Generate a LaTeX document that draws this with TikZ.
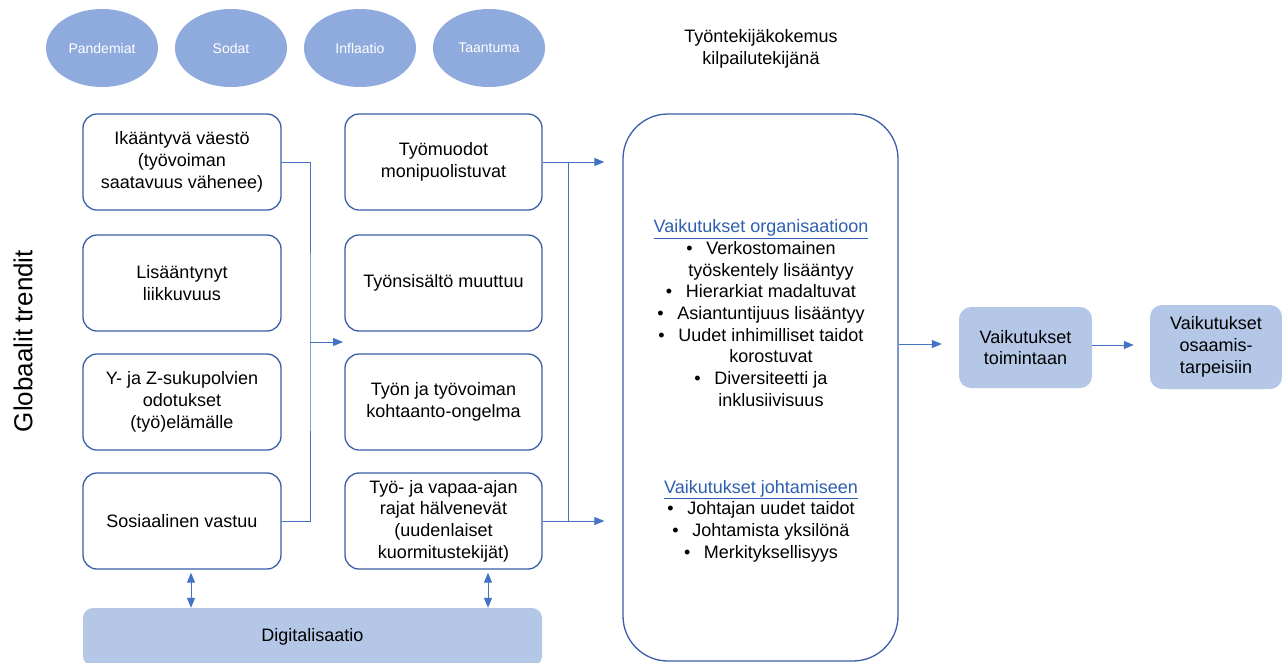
\documentclass[tikz,border=0pt]{standalone}
\usepackage{fontspec}
\setmainfont{Liberation Sans}
\usetikzlibrary{arrows.meta,shapes.geometric,calc}

\definecolor{boxline}{HTML}{3A5FA8}
\definecolor{linkblue}{HTML}{4472C4}
\definecolor{ovalfill}{HTML}{8FAADC}
\definecolor{panelfill}{HTML}{B4C7E7}
\definecolor{headblue}{HTML}{2F5FB0}

% bullet hanging 20pt to the left of the item text
\newcommand{\bitem}[1]{\hspace*{20pt}\llap{\makebox[20pt][l]{•}}#1}
\newcommand{\bcont}[1]{\hspace*{20pt}#1}

\begin{document}
\begin{tikzpicture}[x=1pt,y=-1pt,
  txt/.style={font=\fontsize{18}{21.7}\selectfont, align=center, text=black},
  oval/.style={ellipse, fill=ovalfill, minimum width=112pt, minimum height=78pt,
    inner sep=0pt, font=\fontsize{14}{16}\selectfont, text=white},
  trendbox/.style={txt, draw=boxline, line width=1.3pt, rounded corners=14pt,
    fill=white, minimum height=96pt, inner sep=2pt},
  panel/.style={txt, fill=panelfill, rounded corners=12pt, inner sep=2pt},
  conn/.style={draw=linkblue, line width=1pt},
  arr/.style={conn, -{Triangle[length=10pt,width=8pt]}},
  darr/.style={conn, {Triangle[length=10pt,width=8pt]}-{Triangle[length=10pt,width=8pt]}}
]
\clip (0,0) rectangle (1282,662);
\fill[white] (0,0) rectangle (1282,662);

% external shocks
\node[oval] (pand) at (102,48) {Pandemiat};
\node[oval] (sod)  at (231,48) {Sodat};
\node[oval] (infl) at (360,48) {Inflaatio};
\node[oval] (taan) at (489,48) {Taantuma};

\node[txt] (kokemus) at (761,49) {Työntekijäkokemus\\kilpailutekijänä};

% side label
\node[font=\fontsize{26}{30}\selectfont, rotate=90] (glob) at (23,341) {Globaalit trendit};

% global trends
\node[trendbox, minimum width=198pt] (a1) at (182,162) {Ikääntyvä väestö\\(työvoiman\\saatavuus vähenee)};
\node[trendbox, minimum width=198pt] (a2) at (182,283) {Lisääntynyt\\liikkuvuus};
\node[trendbox, minimum width=198pt] (a3) at (182,402) {Y- ja Z-sukupolvien\\odotukset\\(työ)elämälle};
\node[trendbox, minimum width=198pt] (a4) at (182,521) {Sosiaalinen vastuu};

% changes in work
\node[trendbox, minimum width=197pt] (b1) at (443.5,162) {Työmuodot\\monipuolistuvat};
\node[trendbox, minimum width=197pt] (b2) at (443.5,283) {Työnsisältö muuttuu};
\node[trendbox, minimum width=197pt] (b3) at (443.5,402) {Työn ja työvoiman\\kohtaanto-ongelma};
\node[trendbox, minimum width=197pt] (b4) at (443.5,521) {Työ- ja vapaa-ajan\\rajat hälvenevät\\(uudenlaiset\\kuormitustekijät)};

% digitalisation band
\node[panel, rounded corners=10pt, minimum width=459pt, minimum height=58pt] (dig) at (312.5,637) {Digitalisaatio};

% effects panel
\node[draw=boxline, line width=1.3pt, rounded corners=45pt, minimum width=275pt,
  minimum height=547pt, inner sep=0pt] (eff) at (760.5,387.5) {};
\node[txt] (org) at (761,313) {%
  \textcolor{headblue}{\underline{Vaikutukset organisaatioon}}\\
  \bitem{Verkostomainen}\\
  \bcont{työskentely lisääntyy}\\
  \bitem{Hierarkiat madaltuvat}\\
  \bitem{Asiantuntijuus lisääntyy}\\
  \bitem{Uudet inhimilliset taidot}\\
  \bcont{korostuvat}\\
  \bitem{Diversiteetti ja}\\
  \bcont{inklusiivisuus}};
\node[txt] (joht) at (761,521) {%
  \textcolor{headblue}{\underline{Vaikutukset johtamiseen}}\\
  \bitem{Johtajan uudet taidot}\\
  \bitem{Johtamista yksilönä}\\
  \bitem{Merkityksellisyys}};

% outcomes
\node[panel, minimum width=133pt, minimum height=81pt] (toim) at (1025.5,347.5) {Vaikutukset\\toimintaan};
\node[panel, minimum width=132pt, minimum height=84pt] (osa) at (1216,347) {Vaikutukset\\osaamis-\\tarpeisiin};

% connectors: trends -> changes
\coordinate (jl) at (310,342);
\coordinate (jlend) at (343,342);
\draw[conn] (a1.east) -| (jl) |- (a4.east);
\draw[arr] (jl) -- (jlend);

% connectors: changes -> effects
\coordinate (jr1) at (568,162);
\coordinate (jr2) at (568,521);
\draw[conn] (b1.east) -- (jr1) -- (jr2) -- (b4.east);
\draw[arr, shorten >=18pt] (jr1) -- (jr1 -| eff.west);
\draw[arr, shorten >=18pt] (jr2) -- (jr2 -| eff.west);

% effects -> outcomes
\draw[arr, shorten >=17pt] (eff.east |- 0,344) -- (toim.west |- 0,344);
\draw[arr, shorten >=16pt] (toim.east |- 0,345) -- (osa.west |- 0,345);

% digitalisation links
\draw[darr, shorten <=3pt] ([xshift=9pt]a4.south) -- ([xshift=9pt]a4.south |- dig.north);
\draw[darr, shorten <=3pt] ([xshift=44.5pt]b4.south) -- ([xshift=44.5pt]b4.south |- dig.north);
\end{tikzpicture}
\end{document}
